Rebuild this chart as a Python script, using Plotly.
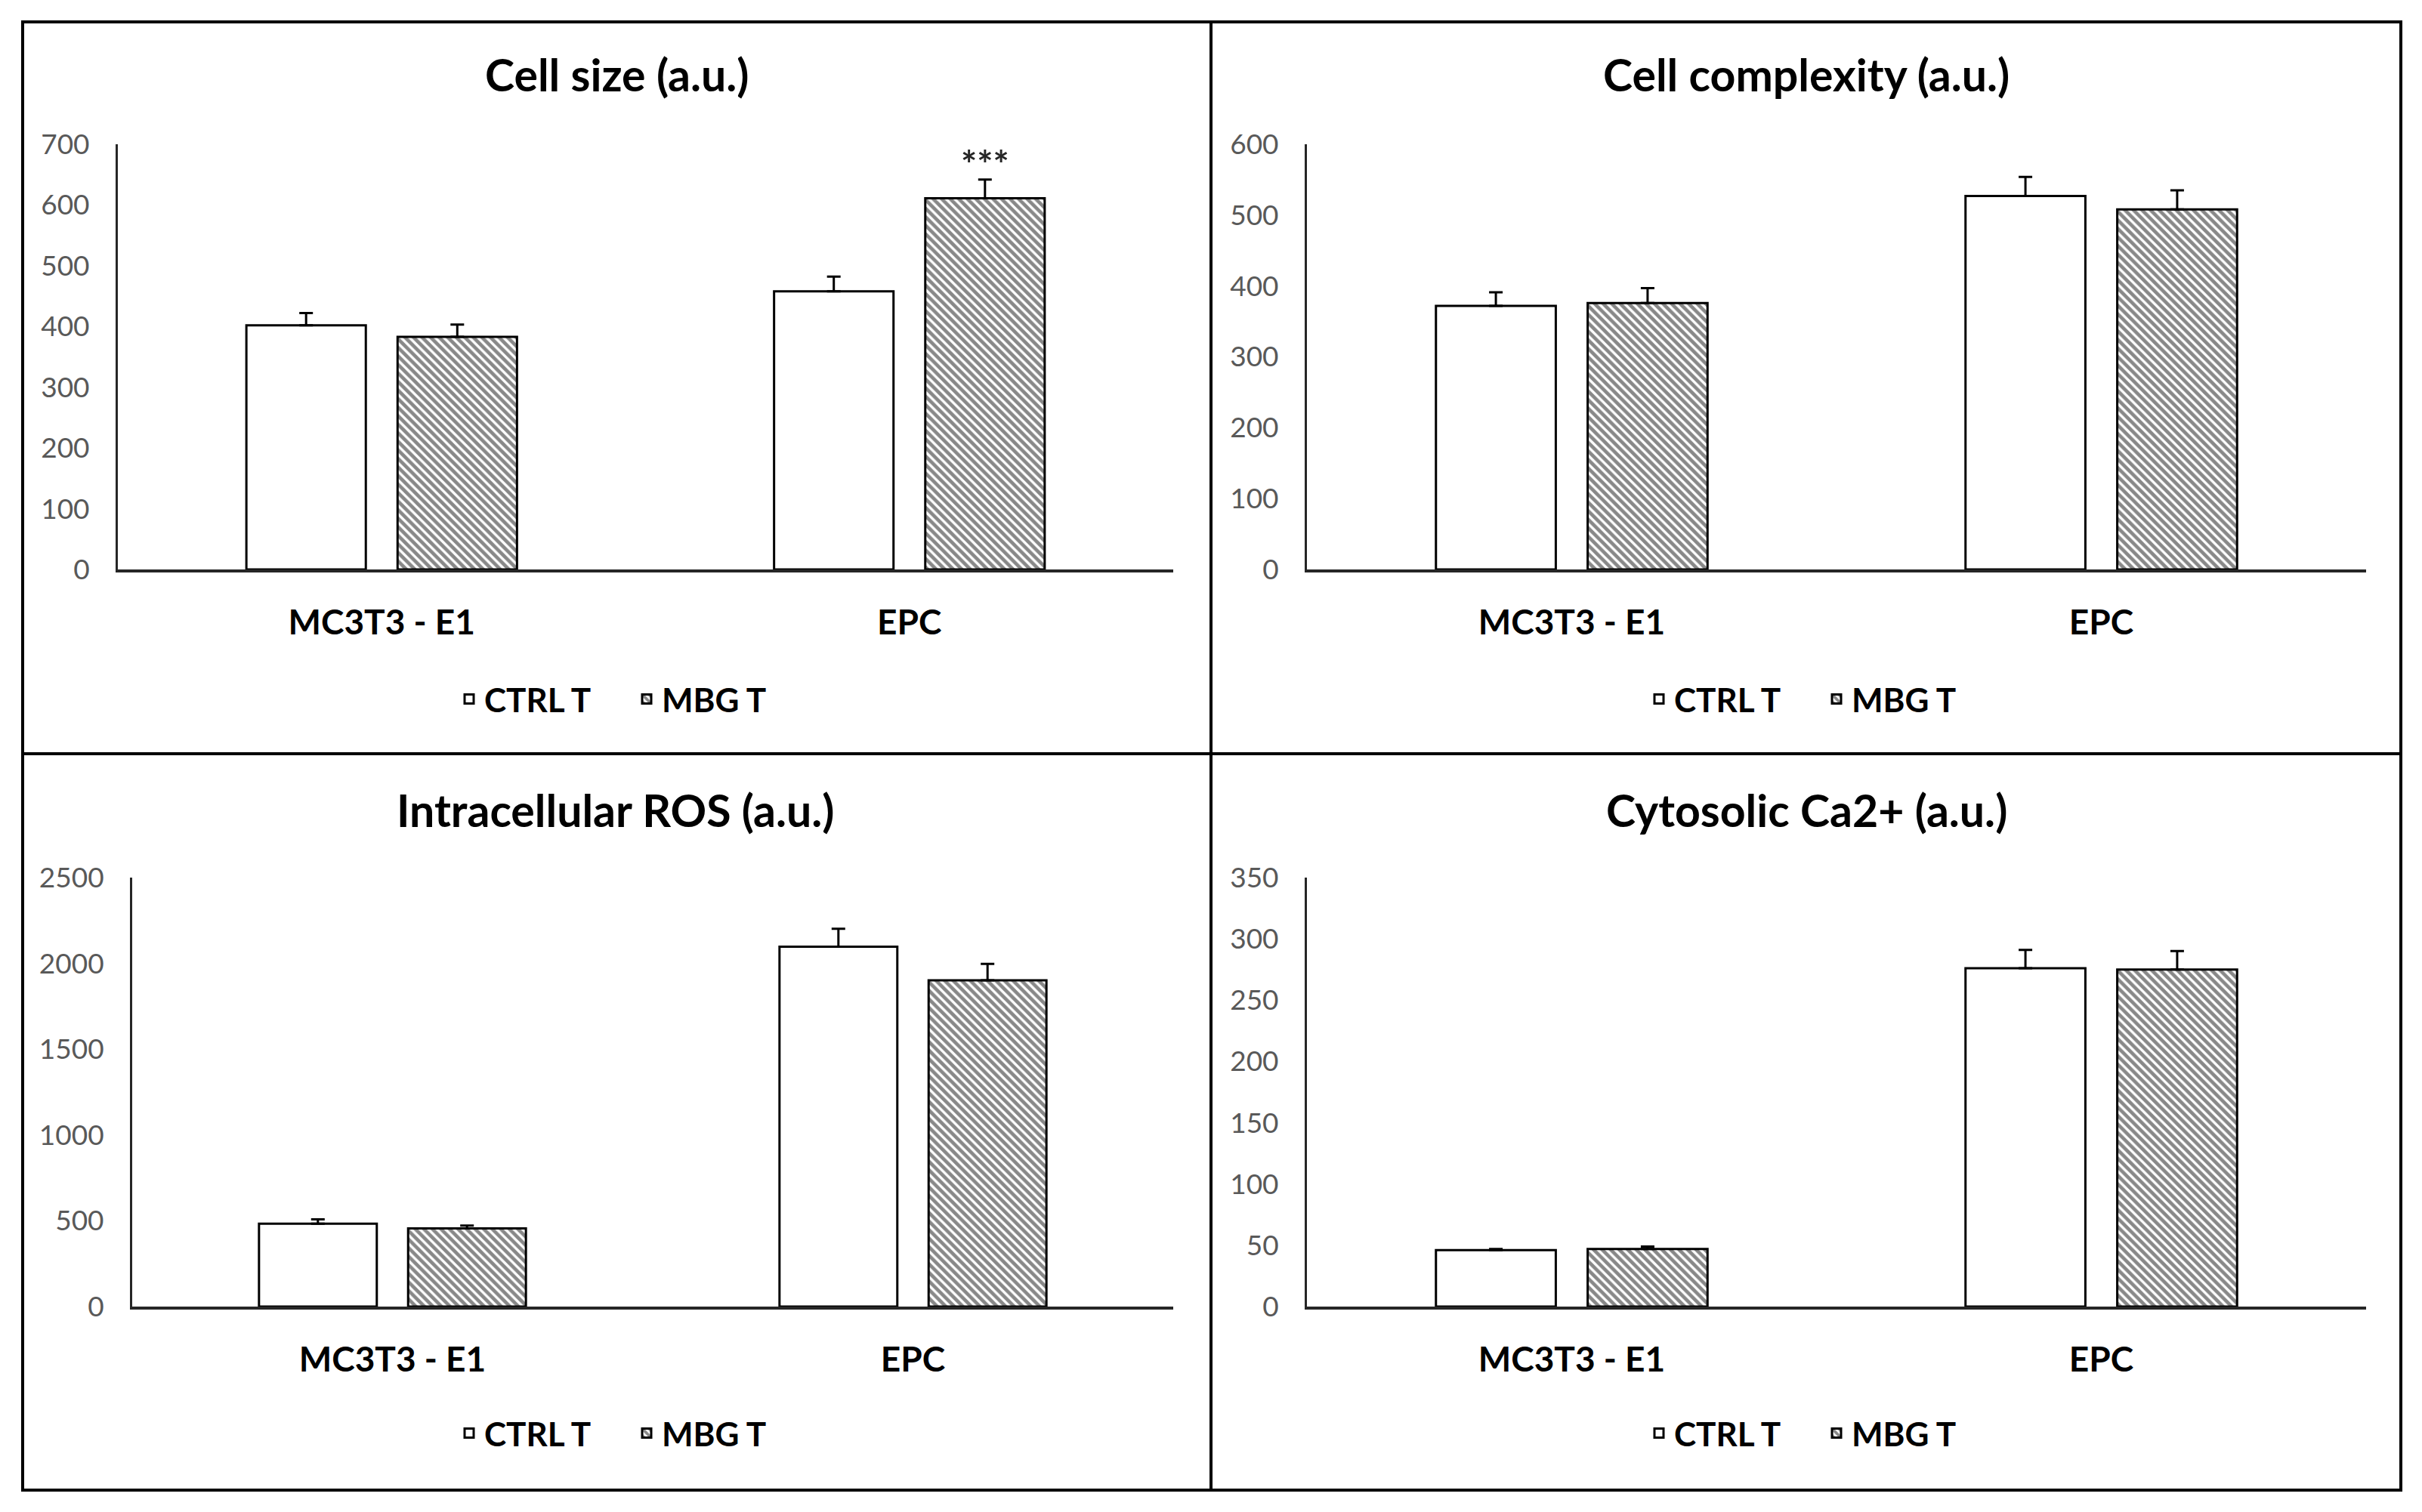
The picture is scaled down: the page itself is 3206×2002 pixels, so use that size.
import plotly.graph_objects as go

# ---------------- data ----------------
categories = ["MC3T3 - E1", "EPC"]
series_names = ["CTRL T", "MBG T"]

titles = ["Cell size (a.u.)", "Cell complexity (a.u.)",
          "Intracellular ROS (a.u.)", "Cytosolic Ca2+ (a.u.)"]

cell_size_ctrl = [402, 458]
cell_size_mbg = [383, 611]
cell_size_ctrl_err = [20, 24]
cell_size_mbg_err = [20, 31]

cell_cplx_ctrl = [372, 527]
cell_cplx_mbg = [376, 508]
cell_cplx_ctrl_err = [19, 27]
cell_cplx_mbg_err = [21, 27]

ros_ctrl = [483, 2097]
ros_mbg = [455, 1901]
ros_ctrl_err = [25, 105]
ros_mbg_err = [17, 96]

ca_ctrl = [46, 276]
ca_mbg = [47, 275]
ca_ctrl_err = [1, 15]
ca_mbg_err = [2, 15]

y_max = [700, 600, 2500, 350]
y_dtick = [100, 100, 500, 50]

significance_text = "***"   # on EPC, MBG T in Cell size panel

# ---------------- layout constants ----------------
W, H = 3206, 2002
BARGAP = 0.427
BARGROUPGAP = 0.21
FONT = "Lato"
TICK_GRAY = "#595959"

panels = [
    dict(ctrl=cell_size_ctrl, mbg=cell_size_mbg, ce=cell_size_ctrl_err, me=cell_size_mbg_err,
         px=(156, 1553), py=(754, 191), title_xy=(816, 98), legend_xy=(836, 926)),
    dict(ctrl=cell_cplx_ctrl, mbg=cell_cplx_mbg, ce=cell_cplx_ctrl_err, me=cell_cplx_mbg_err,
         px=(1730, 3132), py=(754, 191), title_xy=(2391, 98), legend_xy=(2411, 926)),
    dict(ctrl=ros_ctrl, mbg=ros_mbg, ce=ros_ctrl_err, me=ros_mbg_err,
         px=(175, 1553), py=(1730, 1162), title_xy=(815, 1072), legend_xy=(836, 1898)),
    dict(ctrl=ca_ctrl, mbg=ca_mbg, ce=ca_ctrl_err, me=ca_mbg_err,
         px=(1730, 3132), py=(1730, 1162), title_xy=(2391, 1072), legend_xy=(2411, 1898)),
]

fig = go.Figure()

bar_line = dict(color="black", width=3)
hatch = dict(shape="\\", fgcolor="#111111", bgcolor="white", size=8, solidity=0.58)

for i, p in enumerate(panels):
    n = "" if i == 0 else str(i + 1)
    xa, ya = "x" + n, "y" + n
    lg = "legend" + n
    fig.add_trace(go.Bar(
        x=categories, y=p["ctrl"], name=series_names[0], xaxis=xa, yaxis=ya,
        legend=lg, marker=dict(color="white", line=bar_line),
        error_y=dict(type="data", array=p["ce"], arrayminus=[0] * len(p["ce"]),
                     symmetric=False, color="black", thickness=3, width=9),
    ))
    fig.add_trace(go.Bar(
        x=categories, y=p["mbg"], name=series_names[1], xaxis=xa, yaxis=ya,
        legend=lg, marker=dict(color="white", line=bar_line, pattern=hatch),
        error_y=dict(type="data", array=p["me"], arrayminus=[0] * len(p["me"]),
                     symmetric=False, color="black", thickness=3, width=9),
    ))

    x0, x1 = p["px"]
    yb, yt = p["py"]
    fig.update_layout(**{
        "xaxis" + n: dict(
            domain=[x0 / W, x1 / W], anchor=ya, type="category", automargin=False,
            showline=True, linecolor="#262626", linewidth=4, showgrid=False,
            ticks="", ticklabelstandoff=27,
            tickfont=dict(family=FONT, size=46, color="black", weight="bold"),
            fixedrange=True, zeroline=False,
        ),
        "yaxis" + n: dict(
            domain=[1 - yb / H, 1 - yt / H], anchor=xa, automargin=False,
            range=[0, y_max[i]], dtick=y_dtick[i], tick0=0,
            showline=True, linecolor="#262626", linewidth=3, showgrid=False,
            ticks="", ticklabelstandoff=27, zeroline=False,
            tickfont=dict(family=FONT, size=37, color=TICK_GRAY),
        ),
        lg: dict(
            orientation="h", x=p["legend_xy"][0] / W, y=1 - p["legend_xy"][1] / H,
            xanchor="center", yanchor="middle",
            font=dict(family=FONT, size=44, color="black", weight="bold"),
            bgcolor="rgba(0,0,0,0)", itemwidth=30, traceorder="normal",
            entrywidth=190, entrywidthmode="pixels",
        ),
    })

    fig.add_annotation(
        text=titles[i], xref="paper", yref="paper",
        x=p["title_xy"][0] / W, y=1 - p["title_xy"][1] / H,
        xanchor="center", yanchor="middle", showarrow=False,
        font=dict(family=FONT, size=59, color="black", weight="bold"),
    )

# significance marker above EPC / MBG T bar (cell size)
epc_idx = categories.index("EPC")
fig.add_annotation(
    text=significance_text, xref="x", yref="y",
    x=epc_idx + (1 - BARGAP) / 4,
    y=cell_size_mbg[epc_idx] + cell_size_mbg_err[epc_idx],
    yanchor="bottom", yshift=-11, showarrow=False,
    font=dict(family=FONT, size=50, color="#262626", weight="bold"),
)

# frame and dividers
frame = dict(color="black", width=4)
fig.add_shape(type="rect", xref="paper", yref="paper",
              x0=30 / W, x1=3178 / W, y0=1 - 1973 / H, y1=1 - 29 / H, line=frame)
fig.add_shape(type="line", xref="paper", yref="paper",
              x0=1603 / W, x1=1603 / W, y0=1 - 1973 / H, y1=1 - 29 / H, line=frame)
fig.add_shape(type="line", xref="paper", yref="paper",
              x0=30 / W, x1=3178 / W, y0=1 - 998 / H, y1=1 - 998 / H, line=frame)

fig.update_layout(
    width=W, height=H, margin=dict(l=0, r=0, t=0, b=0, autoexpand=False),
    paper_bgcolor="white", plot_bgcolor="white",
    barmode="group", bargap=BARGAP, bargroupgap=BARGROUPGAP,
    showlegend=True, font=dict(family=FONT),
)

fig.write_html("out.html", config={"displayModeBar": False},
               post_script="document.body.style.margin='0px';")
